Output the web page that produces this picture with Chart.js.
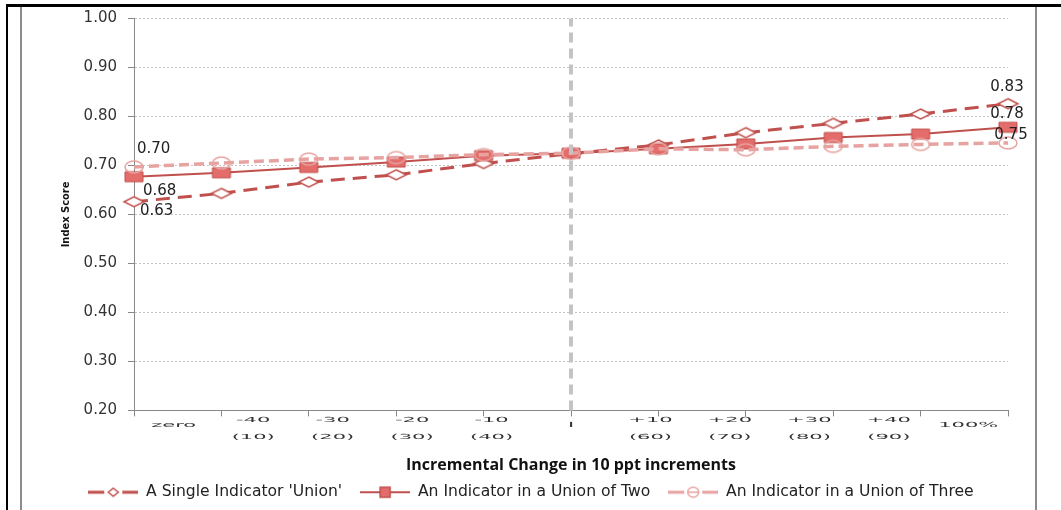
<!DOCTYPE html>
<html>
<head>
<meta charset="utf-8">
<script src="https://cdn.jsdelivr.net/npm/chart.js@4.4.1/dist/chart.umd.min.js"></script>
<style>
  body { margin: 0; background: #fff; width: 1061px; height: 510px; overflow: hidden; position: relative; }
  #lineTop { position: absolute; left: 6px; top: 4px; width: 1055px; height: 3px; background: #000; }
  #lineLeft { position: absolute; left: 6px; top: 4px; width: 2px; height: 506px; background: #000; }
  #box { position: absolute; left: 20px; top: 7px; width: 1013px; height: 510px;
         border-left: 2px solid #8c8c8c; border-right: 2px solid #8c8c8c; }
  #wrap { position: absolute; left: 22px; top: 0; width: 1013px; height: 510px; }
</style>
</head>
<body>
<div id="lineTop"></div>
<div id="lineLeft"></div>
<div id="box"></div>
<div id="wrap"><canvas id="chart"></canvas></div>
<script>
// categories on the x axis (two lines where the original has two)
const categories = ['zero', ['-40', '(10)'], ['-30', '(20)'], ['-20', '(30)'], ['-10', '(40)'], 'I',
                    ['+10', '(60)'], ['+20', '(70)'], ['+30', '(80)'], ['+40', '(90)'], '100%'];

// index scores
const singleUnion = [0.626, 0.643, 0.666, 0.681, 0.704, 0.724, 0.742, 0.767, 0.786, 0.805, 0.826];
const unionOfTwo = [0.677, 0.685, 0.696, 0.707, 0.720, 0.725, 0.734, 0.744, 0.757, 0.764, 0.778];
const unionOfThree = [0.697, 0.705, 0.713, 0.716, 0.722, 0.725, 0.734, 0.732, 0.739, 0.743, 0.746];

const seriesNames = ["A Single Indicator 'Union'", 'An Indicator in a Union of Two', 'An Indicator in a Union of Three'];
const yRange = [0.2, 1.0];
const yStep = 0.1;
const dividerAt = 5;

const dark = '#C0504D';
const light = '#E6A3A1';

// small canvases used as point styles (markers are wider than tall in the original)
function marker(shape, w, h, fill, stroke, lw) {
  const c = document.createElement('canvas');
  c.width = w + 4; c.height = h + 4;
  const g = c.getContext('2d');
  const cx = c.width / 2, cy = c.height / 2;
  g.beginPath();
  if (shape === 'diamond') {
    g.moveTo(cx, cy - h / 2); g.lineTo(cx + w / 2, cy); g.lineTo(cx, cy + h / 2); g.lineTo(cx - w / 2, cy); g.closePath();
  } else if (shape === 'rect') {
    g.rect(cx - w / 2, cy - h / 2, w, h);
  } else {
    g.ellipse(cx, cy, w / 2, h / 2, 0, 0, Math.PI * 2);
  }
  if (fill) { g.fillStyle = fill; g.fill(); }
  g.lineWidth = lw; g.strokeStyle = stroke; g.stroke();
  return c;
}

// legend sample: line with the marker in the middle
function sample(shape, color, fill, lw, gap) {
  const c = document.createElement('canvas');
  c.width = 50; c.height = 14;
  const g = c.getContext('2d');
  g.strokeStyle = color; g.lineWidth = lw;
  g.beginPath();
  if (gap) {
    g.moveTo(0, 7); g.lineTo(16, 7); g.moveTo(34, 7); g.lineTo(50, 7);
  } else {
    g.moveTo(0, 7); g.lineTo(50, 7);
  }
  g.stroke();
  g.beginPath();
  if (shape === 'diamond') {
    g.moveTo(25, 3); g.lineTo(30, 7); g.lineTo(25, 11); g.lineTo(20, 7); g.closePath();
  } else if (shape === 'rect') {
    g.rect(20, 2, 10, 10);
  } else {
    g.ellipse(25, 7, 5.5, 5, 0, 0, Math.PI * 2);
    g.moveTo(19.5, 7); g.lineTo(30.5, 7);
  }
  if (fill) { g.fillStyle = fill; g.fill(); }
  g.lineWidth = 1.5; g.stroke();
  return c;
}

const markers = [
  marker('diamond', 20, 10, '#ffffff', dark, 1.5),
  marker('rect', 18, 10, '#E46C6A', dark, 1),
  marker('ellipse', 18, 12, null, light, 1.5)
];
const legendSamples = [
  sample('diamond', dark, '#ffffff', 3, true),
  sample('rect', dark, '#E46C6A', 2, false),
  sample('ellipse', light, null, 3, true)
];

const toPoints = arr => arr.map((y, i) => ({ x: i, y: y }));

// where the value labels sit relative to their point
const labelSpots = [
  { ds: 0, i: 0, dx: 6, dy: 9, align: 'left' },
  { ds: 1, i: 0, dx: 9, dy: 14, align: 'left' },
  { ds: 2, i: 0, dx: 3, dy: -18, align: 'left' },
  { ds: 0, i: 10, dx: -1, dy: -17, align: 'center' },
  { ds: 1, i: 10, dx: -1, dy: -13, align: 'center' },
  { ds: 2, i: 10, dx: 3, dy: -8, align: 'center' }
];

const valueLabels = {
  id: 'valueLabels',
  afterDatasetsDraw(chart) {
    const ctx = chart.ctx;
    ctx.save();
    ctx.font = '15px "DejaVu Sans"';
    ctx.fillStyle = '#222';
    ctx.textBaseline = 'middle';
    labelSpots.forEach(s => {
      const p = chart.getDatasetMeta(s.ds).data[s.i];
      const v = chart.data.datasets[s.ds].data[s.i].y;
      ctx.textAlign = s.align;
      ctx.fillText(v.toFixed(2), p.x + s.dx, p.y + s.dy);
    });
    ctx.restore();
  }
};

// category labels are drawn stretched, like the original
const stretchedTicks = {
  id: 'stretchedTicks',
  afterDraw(chart) {
    const s = chart.scales.cat;
    const base = chart.chartArea.bottom;
    const ctx = chart.ctx;
    ctx.save();
    ctx.font = '7px "DejaVu Sans"';
    ctx.fillStyle = '#333';
    ctx.textAlign = 'center';
    ctx.textBaseline = 'middle';
    categories.forEach((lab, i) => {
      const x = s.getPixelForValue(i);
      const lines = Array.isArray(lab) ? lab : [lab];
      const ys = lines.length === 2 ? [10, 27] : [15];
      lines.forEach((t, j) => {
        ctx.save();
        ctx.translate(x, base + ys[j]);
        ctx.scale(3, 1);
        ctx.fillText(t, 0, 0);
        ctx.restore();
      });
    });
    ctx.restore();
  }
};

// chart.js leaves the centred legend a little to the left, nudge it
const legendNudge = {
  id: 'legendNudge',
  afterLayout(chart) {
    chart.legend.left += 16;
    chart.legend.right += 16;
  }
};

new Chart(document.getElementById('chart'), {
  type: 'line',
  data: {
    labels: categories,
    datasets: [
      {
        label: seriesNames[0], data: toPoints(singleUnion), order: 3,
        borderColor: dark, borderWidth: 3, borderDash: [14, 8],
        pointStyle: markers[0], pointRadius: 5, clip: false, tension: 0
      },
      {
        label: seriesNames[1], data: toPoints(unionOfTwo), order: 2,
        borderColor: dark, borderWidth: 2,
        pointStyle: markers[1], pointRadius: 5, clip: false, tension: 0
      },
      {
        label: seriesNames[2], data: toPoints(unionOfThree), order: 1,
        borderColor: light, borderWidth: 3.5, borderDash: [10, 5],
        pointStyle: markers[2], pointRadius: 5, clip: false, tension: 0
      },
      {
        label: '', data: [{ x: dividerAt, y: yRange[0] }, { x: dividerAt, y: yRange[1] }], order: 0,
        borderColor: '#c4c4c4', borderWidth: 4, borderDash: [10, 6],
        pointRadius: 0, clip: false
      }
    ]
  },
  options: {
    responsive: true,
    maintainAspectRatio: false,
    animation: false,
    events: [],
    layout: { padding: { left: 0, right: 27, top: 0, bottom: 0 } },
    scales: {
      x: {
        type: 'linear', position: 'bottom', min: 0, max: categories.length - 1,
        ticks: { display: false, stepSize: 1 },
        grid: { drawOnChartArea: false, drawTicks: true, tickLength: 6, tickColor: '#888' },
        border: { color: '#888', width: 1 }
      },
      cat: {
        type: 'category', position: 'bottom', labels: categories, offset: true,
        ticks: { display: false },
        grid: { display: false, drawTicks: false },
        border: { display: false },
        title: {
          display: true, text: 'Incremental Change in 10 ppt increments', color: '#111',
          font: { family: '"Open Sans"', size: 16, weight: 'bold' },
          padding: { top: 0, bottom: -9 }
        },
        afterFit: s => { s.height = 50; }
      },
      y: {
        min: yRange[0], max: yRange[1],
        ticks: {
          stepSize: yStep, padding: 11, color: '#333',
          font: { family: '"DejaVu Sans"', size: 15, lineHeight: 1 },
          callback: v => v.toFixed(2)
        },
        grid: { color: '#c4c4c4', tickLength: 6, tickColor: '#888' },
        border: { color: '#888', width: 1, dash: [2, 2] },
        title: {
          display: true, text: 'Index Score', color: '#111',
          font: { family: '"Liberation Sans Narrow", "DejaVu Sans Condensed", sans-serif', size: 11, weight: 'bold' },
          padding: { top: 38, bottom: 0 }
        },
        afterFit: s => { s.width = 112; }
      }
    },
    plugins: {
      tooltip: { enabled: false },
      legend: {
        position: 'bottom',
        align: 'center',
        labels: {
          usePointStyle: true,
          pointStyleWidth: 50,
          padding: 18,
          color: '#222',
          font: { family: '"DejaVu Sans"', size: 15.6 },
          generateLabels: chart => chart.data.datasets.slice(0, 3).map((ds, i) => ({
            text: ds.label, pointStyle: legendSamples[i], datasetIndex: i,
            hidden: false, lineWidth: 0, strokeStyle: 'transparent', fillStyle: 'transparent', fontColor: '#222'
          }))
        }
      }
    }
  },
  plugins: [valueLabels, stretchedTicks, legendNudge]
});
</script>
</body>
</html>
